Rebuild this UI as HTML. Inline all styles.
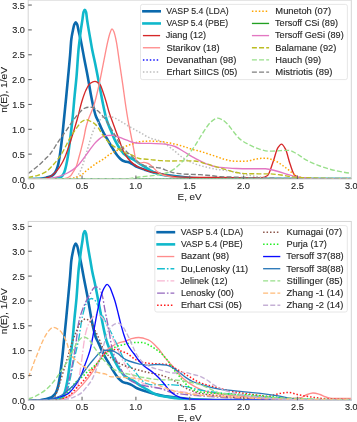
<!DOCTYPE html>
<html><head><meta charset="utf-8"><style>
html,body{margin:0;padding:0;background:#fff;}
svg{display:block;will-change:transform;font-family:"Liberation Sans",sans-serif;}
</style></head><body>
<svg width="357" height="422" viewBox="0 0 357 422">
<defs><clipPath id="ct"><rect x="28.20" y="0.10" width="323.10" height="178.90"/></clipPath>
<clipPath id="cb"><rect x="28.20" y="221.45" width="323.10" height="178.90"/></clipPath></defs>
<rect width="357" height="422" fill="#fff"/>
<g clip-path="url(#ct)" fill="none" stroke-linejoin="round">
<path d="M28.20 179.00C32.13 179.00 36.07 178.97 40.00 178.90C42.00 178.86 44.00 178.20 46.00 177.70C47.90 177.22 49.80 176.77 51.70 175.80C52.63 175.32 53.57 174.41 54.50 173.30C55.13 172.55 55.77 171.49 56.40 170.10C57.00 168.79 57.60 166.90 58.20 164.50C58.67 162.63 59.13 159.81 59.60 156.90C60.43 151.70 61.27 145.12 62.10 137.90C62.73 132.41 63.37 125.32 64.00 119.00C64.73 111.69 65.47 104.54 66.20 97.00C66.83 90.48 67.47 83.71 68.10 76.90C68.77 69.73 69.43 62.96 70.10 55.00C70.50 50.23 70.90 42.72 71.30 39.50C71.83 35.21 72.37 32.95 72.90 30.40C73.37 28.17 73.83 25.70 74.30 24.60C74.77 23.50 75.23 22.30 75.70 22.30C76.20 22.30 76.70 23.45 77.20 24.60C77.63 25.60 78.07 28.49 78.50 30.40C79.20 33.48 79.90 36.20 80.60 39.50C81.77 45.00 82.93 51.84 84.10 57.90C85.33 64.31 86.57 70.21 87.80 76.90C88.90 82.86 90.00 90.02 91.10 95.80C91.93 100.18 92.77 104.58 93.60 108.00C94.40 111.28 95.20 114.40 96.00 116.50C96.80 118.60 97.60 119.75 98.40 121.50C99.20 123.25 100.00 125.25 100.80 127.00C101.57 128.67 102.33 130.30 103.10 131.80C103.90 133.36 104.70 134.79 105.50 136.20C106.27 137.55 107.03 138.79 107.80 140.10C109.40 142.84 111.00 145.82 112.60 148.40C114.17 150.93 115.73 153.52 117.30 155.50C118.20 156.64 119.10 157.66 120.00 158.50C120.83 159.27 121.67 160.09 122.50 160.50C123.33 160.91 124.17 161.16 125.00 161.40C126.00 161.68 127.00 161.80 128.00 162.10C129.13 162.44 130.27 162.95 131.40 163.50C133.27 164.40 135.13 166.05 137.00 166.90C139.60 168.09 142.20 168.83 144.80 169.70C147.80 170.70 150.80 171.73 153.80 172.50C156.40 173.16 159.00 173.70 161.60 174.20C163.73 174.61 165.87 175.00 168.00 175.30C173.67 176.09 179.33 176.73 185.00 177.20C190.00 177.62 195.00 178.04 200.00 178.20C210.00 178.53 220.00 178.76 230.00 178.80C270.43 178.95 310.87 179.00 351.30 179.00" stroke="#0b69ad" stroke-width="2.60" stroke-linecap="square"/>
<path d="M28.20 179.00C35.47 179.00 42.73 179.00 50.00 179.00C52.13 179.00 54.27 178.58 56.40 178.20C58.00 177.91 59.60 177.61 61.20 176.80C61.97 176.41 62.73 175.30 63.50 174.00C64.00 173.15 64.50 171.73 65.00 170.10C65.93 167.06 66.87 162.36 67.80 156.90C68.63 152.03 69.47 144.63 70.30 137.90C71.03 131.98 71.77 126.09 72.50 119.00C73.20 112.23 73.90 103.12 74.60 95.80C75.23 89.18 75.87 84.16 76.50 76.90C77.17 69.26 77.83 56.68 78.50 49.80C78.90 45.67 79.30 42.87 79.70 39.50C80.07 36.41 80.43 33.12 80.80 30.40C81.37 26.19 81.93 22.94 82.50 19.10C82.83 16.84 83.17 13.20 83.50 12.20C83.93 10.91 84.37 9.80 84.80 9.80C85.23 9.80 85.67 10.86 86.10 12.20C86.40 13.13 86.70 17.01 87.00 19.10C87.60 23.29 88.20 26.82 88.80 30.40C89.33 33.58 89.87 36.46 90.40 39.50C91.00 42.92 91.60 46.71 92.20 49.80C93.13 54.60 94.07 58.20 95.00 62.70C96.40 69.45 97.80 76.88 99.20 84.10C100.60 91.32 102.00 99.48 103.40 106.00C104.50 111.13 105.60 116.48 106.70 120.00C108.27 125.02 109.83 127.98 111.40 131.80C112.57 134.64 113.73 137.75 114.90 140.10C116.50 143.33 118.10 146.07 119.70 148.40C121.27 150.68 122.83 152.92 124.40 154.30C125.60 155.36 126.80 156.09 128.00 156.80C129.87 157.90 131.73 158.51 133.60 159.60C135.47 160.69 137.33 162.29 139.20 163.50C141.07 164.71 142.93 165.77 144.80 166.90C146.67 168.03 148.53 169.28 150.40 170.30C152.27 171.32 154.13 172.42 156.00 173.10C157.87 173.78 159.73 174.31 161.60 174.70C166.07 175.64 170.53 176.27 175.00 176.80C180.00 177.39 185.00 178.00 190.00 178.20C200.00 178.60 210.00 178.88 220.00 178.90C263.77 178.98 307.53 179.00 351.30 179.00" stroke="#10b8cb" stroke-width="2.60" stroke-linecap="square"/>
<path d="M28.20 179.00C32.13 179.00 36.07 178.93 40.00 178.80C43.27 178.70 46.53 177.91 49.80 176.80C52.33 175.94 54.87 172.98 57.40 170.10C58.77 168.55 60.13 166.36 61.50 164.00C62.67 161.99 63.83 159.63 65.00 156.90C67.20 151.76 69.40 144.69 71.60 137.90C73.50 132.03 75.40 125.77 77.30 119.00C78.87 113.42 80.43 105.99 82.00 101.00C83.33 96.75 84.67 92.72 86.00 90.00C87.33 87.28 88.67 84.44 90.00 83.50C91.67 82.32 93.33 81.30 95.00 81.30C96.67 81.30 98.33 82.71 100.00 84.50C101.00 85.57 102.00 89.22 103.00 92.00C104.17 95.24 105.33 99.07 106.50 103.00C107.33 105.81 108.17 109.35 109.00 112.00C110.00 115.18 111.00 117.70 112.00 120.50C113.37 124.32 114.73 128.12 116.10 131.80C117.30 135.03 118.50 138.09 119.70 141.30C120.87 144.42 122.03 148.42 123.20 150.80C124.80 154.07 126.40 156.52 128.00 158.50C129.87 160.81 131.73 162.69 133.60 164.10C135.47 165.51 137.33 166.61 139.20 167.50C141.07 168.39 142.93 169.02 144.80 169.70C146.67 170.38 148.53 171.14 150.40 171.60C152.27 172.06 154.13 172.36 156.00 172.70C157.33 172.95 158.67 173.12 160.00 173.40C161.67 173.76 163.33 174.38 165.00 174.80C167.07 175.32 169.13 175.92 171.20 176.20C174.93 176.70 178.67 177.12 182.40 177.20C188.27 177.33 194.13 177.36 200.00 177.40C206.67 177.45 213.33 177.46 220.00 177.50C230.00 177.57 240.00 177.80 250.00 177.80C254.00 177.80 258.00 177.74 262.00 177.60C263.87 177.53 265.73 176.72 267.60 175.50C269.47 174.28 271.33 166.59 273.20 161.50C274.70 157.41 276.20 150.40 277.70 148.10C278.97 146.16 280.23 144.10 281.50 144.10C282.83 144.10 284.17 146.78 285.50 149.20C287.00 151.92 288.50 159.57 290.00 163.80C291.50 168.03 293.00 173.51 294.50 175.00C296.00 176.49 297.50 177.57 299.00 177.80C301.00 178.11 303.00 178.25 305.00 178.30C313.33 178.51 321.67 178.54 330.00 178.60C337.10 178.65 344.20 178.69 351.30 178.70" stroke="#d62728" stroke-width="1.35" stroke-linecap="square"/>
<path d="M28.20 179.00C38.80 179.00 49.40 179.00 60.00 179.00C62.40 179.00 64.80 178.47 67.20 177.80C68.33 177.48 69.47 176.78 70.60 175.80C71.43 175.08 72.27 173.35 73.10 172.00C74.17 170.27 75.23 168.91 76.30 166.40C77.20 164.28 78.10 160.22 79.00 157.00C79.70 154.50 80.40 152.03 81.10 149.30C82.03 145.67 82.97 141.90 83.90 137.60C84.53 134.69 85.17 130.62 85.80 128.00C86.47 125.24 87.13 123.02 87.80 121.00C89.83 114.83 91.87 111.79 93.90 105.40C95.67 99.85 97.43 91.99 99.20 84.10C100.63 77.70 102.07 69.82 103.50 62.70C104.93 55.58 106.37 47.50 107.80 41.40C108.53 38.28 109.27 34.95 110.00 33.00C110.67 31.23 111.33 28.90 112.00 28.90C112.67 28.90 113.33 30.52 114.00 32.00C114.77 33.71 115.53 37.57 116.30 41.40C117.37 46.73 118.43 55.58 119.50 62.70C120.57 69.82 121.63 76.73 122.70 84.10C123.77 91.47 124.83 99.95 125.90 107.00C126.60 111.62 127.30 116.06 128.00 120.00C129.17 126.57 130.33 131.87 131.50 137.80C132.30 141.87 133.10 145.97 133.90 150.00C134.53 153.19 135.17 158.27 135.80 159.50C136.93 161.70 138.07 163.30 139.20 163.30C140.70 163.30 142.20 162.40 143.70 162.40C145.20 162.40 146.70 162.94 148.20 163.50C149.67 164.05 151.13 165.62 152.60 166.90C154.10 168.21 155.60 170.13 157.10 171.40C158.60 172.67 160.10 174.15 161.60 174.70C163.73 175.48 165.87 175.77 168.00 176.20C172.00 177.01 176.00 178.08 180.00 178.30C186.67 178.66 193.33 178.89 200.00 178.90C250.43 178.99 300.87 179.00 351.30 179.00" stroke="#ff8c8c" stroke-width="1.35" stroke-linecap="square"/>
<path d="M28.20 179.00L351.30 179.00" stroke="#1515ff" stroke-width="1.50" stroke-dasharray="1.50 1.95" stroke-linecap="butt"/>
<path d="M28.20 179.00C42.13 179.00 56.07 179.00 70.00 179.00C71.67 179.00 73.33 178.58 75.00 178.00C76.17 177.60 77.33 176.09 78.50 174.50C79.67 172.91 80.83 169.97 82.00 167.00C83.17 164.03 84.33 159.78 85.50 156.00C86.60 152.44 87.70 148.67 88.80 145.00C90.00 141.00 91.20 136.10 92.40 133.00C93.33 130.59 94.27 128.67 95.20 127.00C96.33 124.97 97.47 123.30 98.60 121.80C99.90 120.08 101.20 117.89 102.50 117.30C103.80 116.71 105.10 116.20 106.40 116.20C107.70 116.20 109.00 116.46 110.30 116.70C112.00 117.01 113.70 117.70 115.40 118.40C117.43 119.24 119.47 120.62 121.50 121.80C124.33 123.45 127.17 125.36 130.00 127.00C133.33 128.93 136.67 130.67 140.00 132.50C143.33 134.33 146.67 136.69 150.00 138.00C153.73 139.47 157.47 139.82 161.20 141.40C164.93 142.98 168.67 146.41 172.40 149.20C176.13 151.99 179.87 155.90 183.60 158.20C187.33 160.50 191.07 162.42 194.80 163.80C198.53 165.18 202.27 166.20 206.00 167.10C209.73 168.00 213.47 168.82 217.20 169.40C221.47 170.07 225.73 170.32 230.00 171.00C235.80 171.93 241.60 174.01 247.40 175.00C254.93 176.28 262.47 177.59 270.00 178.00C280.00 178.55 290.00 179.00 300.00 179.00C317.10 179.00 334.20 179.00 351.30 179.00" stroke="#bdbdbd" stroke-width="1.50" stroke-dasharray="1.50 1.95" stroke-linecap="butt"/>
<path d="M28.20 179.00C40.80 179.00 53.40 179.00 66.00 179.00C67.70 179.00 69.40 178.64 71.10 178.40C72.73 178.17 74.37 177.93 76.00 177.50C78.30 176.89 80.60 175.40 82.90 173.80C83.93 173.08 84.97 171.85 86.00 171.00C87.33 169.90 88.67 169.00 90.00 168.00C92.00 166.50 94.00 164.83 96.00 163.50C98.37 161.93 100.73 160.86 103.10 159.30C105.47 157.74 107.83 155.45 110.20 154.00C112.57 152.55 114.93 151.50 117.30 150.30C119.67 149.10 122.03 147.79 124.40 146.80C127.17 145.64 129.93 144.72 132.70 143.80C134.87 143.08 137.03 142.04 139.20 141.80C142.93 141.39 146.67 141.10 150.40 141.10C154.13 141.10 157.87 141.38 161.60 141.70C163.73 141.88 165.87 142.45 168.00 142.80C169.47 143.04 170.93 143.22 172.40 143.50C176.13 144.22 179.87 145.42 183.60 146.50C187.33 147.58 191.07 149.03 194.80 150.00C196.53 150.45 198.27 150.73 200.00 151.20C202.80 151.95 205.60 153.08 208.40 154.00C211.20 154.92 214.00 155.75 216.80 156.70C219.03 157.46 221.27 158.56 223.50 159.10C227.73 160.13 231.97 161.30 236.20 161.30C239.93 161.30 243.67 161.23 247.40 161.10C250.40 161.00 253.40 159.26 256.40 158.90C259.37 158.55 262.33 158.20 265.30 158.20C268.30 158.20 271.30 159.35 274.30 160.40C277.30 161.45 280.30 163.96 283.30 166.00C285.53 167.52 287.77 169.32 290.00 171.00C292.23 172.68 294.47 175.21 296.70 176.10C299.47 177.21 302.23 177.99 305.00 178.30C308.33 178.68 311.67 179.00 315.00 179.00C327.10 179.00 339.20 179.00 351.30 179.00" stroke="#ffa500" stroke-width="1.50" stroke-dasharray="1.50 1.95" stroke-linecap="butt"/>
<path d="M28.20 179.00L351.30 179.00" stroke="#22a022" stroke-width="1.35" stroke-linecap="square"/>
<path d="M28.20 179.00C33.80 179.00 39.40 179.00 45.00 179.00C49.13 179.00 53.27 177.89 57.40 176.90C60.77 176.10 64.13 174.68 67.50 173.00C70.83 171.34 74.17 169.03 77.50 166.00C80.33 163.42 83.17 158.98 86.00 155.20C88.00 152.53 90.00 149.37 92.00 146.80C93.33 145.09 94.67 143.37 96.00 142.00C97.57 140.39 99.13 138.75 100.70 137.80C102.30 136.83 103.90 135.77 105.50 135.60C107.87 135.35 110.23 135.20 112.60 135.20C114.97 135.20 117.33 136.49 119.70 137.30C122.07 138.11 124.43 139.37 126.80 140.20C129.87 141.28 132.93 142.75 136.00 143.00C138.00 143.16 140.00 143.26 142.00 143.30C144.80 143.36 147.60 143.35 150.40 143.40C154.13 143.47 157.87 143.65 161.60 143.90C163.73 144.04 165.87 144.27 168.00 144.60C170.33 144.96 172.67 145.65 175.00 146.50C177.87 147.55 180.73 149.81 183.60 151.50C187.33 153.70 191.07 156.17 194.80 158.20C198.53 160.23 202.27 162.42 206.00 163.80C209.73 165.18 213.47 166.60 217.20 167.10C219.80 167.45 222.40 167.61 225.00 167.80C228.73 168.08 232.47 168.40 236.20 168.50C239.93 168.60 243.67 168.70 247.40 168.70C253.37 168.70 259.33 168.70 265.30 168.70C269.03 168.70 272.77 170.07 276.50 171.00C280.23 171.93 283.97 173.45 287.70 174.50C290.70 175.34 293.70 176.25 296.70 176.80C299.47 177.31 302.23 177.67 305.00 178.00C308.33 178.40 311.67 179.00 315.00 179.00C327.10 179.00 339.20 179.00 351.30 179.00" stroke="#e377c2" stroke-width="1.35" stroke-linecap="square"/>
<path d="M28.20 177.30C31.40 177.03 34.60 176.21 37.80 175.30C40.47 174.54 43.13 173.40 45.80 171.80C48.70 170.06 51.60 166.70 54.50 163.40C57.07 160.48 59.63 156.89 62.20 152.80C64.77 148.71 67.33 142.49 69.90 138.20C72.47 133.91 75.03 130.05 77.60 126.70C79.07 124.79 80.53 122.38 82.00 121.50C83.50 120.60 85.00 119.70 86.50 119.70C87.53 119.70 88.57 120.34 89.60 120.80C91.73 121.74 93.87 123.01 96.00 124.90C98.37 127.00 100.73 132.31 103.10 135.40C105.47 138.49 107.83 141.70 110.20 143.70C112.57 145.70 114.93 146.94 117.30 148.40C119.67 149.86 122.03 151.49 124.40 152.50C126.77 153.51 129.13 153.97 131.50 154.90C134.07 155.90 136.63 158.07 139.20 158.50C142.93 159.13 146.67 159.23 150.40 159.60C154.13 159.97 157.87 160.54 161.60 160.70C165.20 160.86 168.80 161.00 172.40 161.00C176.13 161.00 179.87 160.80 183.60 160.80C187.33 160.80 191.07 160.88 194.80 161.00C198.53 161.12 202.27 162.79 206.00 163.80C209.73 164.81 213.47 166.00 217.20 167.10C219.80 167.87 222.40 168.66 225.00 169.40C228.73 170.47 232.47 171.92 236.20 172.50C239.93 173.08 243.67 173.63 247.40 173.70C254.87 173.84 262.33 173.77 269.80 173.90C273.53 173.97 277.27 174.54 281.00 175.00C284.73 175.46 288.47 176.43 292.20 176.80C296.47 177.22 300.73 177.54 305.00 177.70C313.33 178.01 321.67 178.19 330.00 178.30C337.10 178.39 344.20 178.48 351.30 178.50" stroke="#bcbd22" stroke-width="1.35" stroke-dasharray="5.00 2.16" stroke-linecap="butt"/>
<path d="M28.20 179.00C58.80 179.00 89.40 179.00 120.00 179.00C122.67 179.00 125.33 178.86 128.00 178.70C131.73 178.48 135.47 177.45 139.20 177.00C142.93 176.55 146.67 176.33 150.40 175.90C151.93 175.72 153.47 175.52 155.00 175.30C157.20 174.98 159.40 174.65 161.60 174.20C163.73 173.76 165.87 173.27 168.00 172.50C170.33 171.66 172.67 170.14 175.00 168.50C176.33 167.56 177.67 166.27 179.00 165.00C180.53 163.54 182.07 161.94 183.60 160.20C187.33 155.97 191.07 151.30 194.80 145.90C196.53 143.39 198.27 140.27 200.00 137.50C201.27 135.48 202.53 133.37 203.80 131.50C206.03 128.20 208.27 124.15 210.50 122.30C212.87 120.34 215.23 118.10 217.60 118.10C219.07 118.10 220.53 118.91 222.00 119.60C223.63 120.37 225.27 121.85 226.90 123.40C229.13 125.51 231.37 129.14 233.60 131.80C235.83 134.46 238.07 137.61 240.30 139.40C243.10 141.64 245.90 143.09 248.70 144.50C252.47 146.40 256.23 148.31 260.00 149.30C263.27 150.16 266.53 151.20 269.80 151.20C273.53 151.20 277.27 150.78 281.00 150.60C283.33 150.49 285.67 150.30 288.00 150.30C290.90 150.30 293.80 152.26 296.70 153.70C299.47 155.07 302.23 157.78 305.00 159.30C310.00 162.04 315.00 164.21 320.00 166.00C325.00 167.79 330.00 169.40 335.00 170.50C340.43 171.69 345.87 172.73 351.30 173.30" stroke="#98df8a" stroke-width="1.35" stroke-dasharray="5.00 2.16" stroke-linecap="butt"/>
<path d="M28.20 173.50C31.40 171.34 34.60 168.83 37.80 166.10C40.53 163.77 43.27 160.97 46.00 158.30C47.27 157.06 48.53 155.99 49.80 154.50C52.63 151.17 55.47 145.73 58.30 141.60C61.53 136.88 64.77 132.65 68.00 128.00C69.70 125.55 71.40 122.78 73.10 120.50C74.80 118.22 76.50 116.07 78.20 114.20C80.13 112.08 82.07 109.34 84.00 108.50C85.50 107.85 87.00 107.20 88.50 107.20C90.00 107.20 91.50 107.27 93.00 107.40C94.47 107.52 95.93 109.38 97.40 110.60C98.90 111.85 100.40 113.35 101.90 115.00C103.10 116.32 104.30 117.81 105.50 119.50C106.83 121.38 108.17 123.83 109.50 126.00C110.93 128.33 112.37 130.55 113.80 133.00C115.77 136.36 117.73 140.85 119.70 143.70C121.67 146.55 123.63 148.85 125.60 150.80C126.40 151.59 127.20 152.19 128.00 152.90C129.87 154.55 131.73 156.22 133.60 157.90C135.47 159.58 137.33 161.79 139.20 163.00C141.07 164.21 142.93 165.27 144.80 165.80C146.67 166.33 148.53 166.64 150.40 166.90C152.27 167.16 154.13 167.28 156.00 167.50C157.33 167.65 158.67 167.76 160.00 168.00C161.67 168.30 163.33 169.18 165.00 169.80C167.07 170.57 169.13 171.64 171.20 172.20C173.13 172.72 175.07 173.12 177.00 173.40C178.80 173.66 180.60 173.89 182.40 174.00C184.93 174.15 187.47 174.20 190.00 174.30C193.33 174.43 196.67 174.52 200.00 174.70C203.33 174.88 206.67 175.19 210.00 175.50C213.33 175.81 216.67 176.41 220.00 176.60C226.67 176.98 233.33 177.07 240.00 177.30C246.67 177.53 253.33 177.85 260.00 178.00C273.33 178.29 286.67 178.52 300.00 178.60C317.10 178.71 334.20 178.80 351.30 178.80" stroke="#7f7f7f" stroke-width="1.35" stroke-dasharray="5.00 2.16" stroke-linecap="butt"/>
</g>
<rect x="28.20" y="0.10" width="323.10" height="178.90" fill="none" stroke="#d4d4d4" stroke-width="1"/>
<g stroke="#6a6a6a" stroke-width="1.1">
<line x1="28.20" y1="154.15" x2="31.80" y2="154.15"/>
<line x1="28.20" y1="129.30" x2="31.80" y2="129.30"/>
<line x1="28.20" y1="104.45" x2="31.80" y2="104.45"/>
<line x1="28.20" y1="79.60" x2="31.80" y2="79.60"/>
<line x1="28.20" y1="54.75" x2="31.80" y2="54.75"/>
<line x1="28.20" y1="29.90" x2="31.80" y2="29.90"/>
<line x1="28.20" y1="5.05" x2="31.80" y2="5.05"/>
<line x1="82.05" y1="179.00" x2="82.05" y2="175.40"/>
<line x1="135.90" y1="179.00" x2="135.90" y2="175.40"/>
<line x1="189.75" y1="179.00" x2="189.75" y2="175.40"/>
<line x1="243.60" y1="179.00" x2="243.60" y2="175.40"/>
<line x1="297.45" y1="179.00" x2="297.45" y2="175.40"/>
</g>
<g fill="#262626" stroke="#262626" stroke-width="0.12" font-family="Liberation Sans, sans-serif">
<text x="12.08" y="182.50" font-size="8.70" textLength="12.77" lengthAdjust="spacingAndGlyphs" >0.0</text>
<text x="12.25" y="157.65" font-size="8.70" textLength="12.64" lengthAdjust="spacingAndGlyphs" >0.5</text>
<text x="12.09" y="132.80" font-size="8.70" textLength="12.76" lengthAdjust="spacingAndGlyphs" >1.0</text>
<text x="12.27" y="107.95" font-size="8.70" textLength="12.61" lengthAdjust="spacingAndGlyphs" >1.5</text>
<text x="12.02" y="83.10" font-size="8.70" textLength="12.84" lengthAdjust="spacingAndGlyphs" >2.0</text>
<text x="12.19" y="58.25" font-size="8.70" textLength="12.70" lengthAdjust="spacingAndGlyphs" >2.5</text>
<text x="12.16" y="33.40" font-size="8.70" textLength="12.68" lengthAdjust="spacingAndGlyphs" >3.0</text>
<text x="12.33" y="8.55" font-size="8.70" textLength="12.55" lengthAdjust="spacingAndGlyphs" >3.5</text>
<text x="21.81" y="189.10" font-size="8.70" textLength="12.77" lengthAdjust="spacingAndGlyphs" >0.0</text>
<text x="75.75" y="189.10" font-size="8.70" textLength="12.64" lengthAdjust="spacingAndGlyphs" >0.5</text>
<text x="129.35" y="189.10" font-size="8.70" textLength="12.76" lengthAdjust="spacingAndGlyphs" >1.0</text>
<text x="183.29" y="189.10" font-size="8.70" textLength="12.61" lengthAdjust="spacingAndGlyphs" >1.5</text>
<text x="237.13" y="189.10" font-size="8.70" textLength="12.84" lengthAdjust="spacingAndGlyphs" >2.0</text>
<text x="291.06" y="189.10" font-size="8.70" textLength="12.70" lengthAdjust="spacingAndGlyphs" >2.5</text>
<text x="344.96" y="189.10" font-size="8.70" textLength="12.68" lengthAdjust="spacingAndGlyphs" >3.0</text>
<text x="177.57" y="199.90" font-size="9.60" textLength="24.11" lengthAdjust="spacingAndGlyphs" >E, eV</text>
<g transform="translate(7.0 89.55) rotate(-90)">
<text x="-23.25" y="0.00" font-size="9.60" textLength="45.87" lengthAdjust="spacingAndGlyphs" >n(E), 1/eV</text>
</g>
</g>
<rect x="140.50" y="4.40" width="206.90" height="75.20" rx="2" ry="2" fill="#fff" fill-opacity="0.8" stroke="#e0e0e0" stroke-width="0.8"/>
<g font-family="Liberation Sans, sans-serif" fill="#262626" stroke="#262626" stroke-width="0.12">
<line x1="143.40" y1="11.30" x2="159.70" y2="11.30" stroke="#0b69ad" stroke-width="2.60" stroke-linecap="square"/>
<text x="166.38" y="14.15" font-size="8.70" textLength="62.24" lengthAdjust="spacingAndGlyphs" >VASP 5.4 (LDA)</text>
<line x1="143.40" y1="23.45" x2="159.70" y2="23.45" stroke="#10b8cb" stroke-width="2.60" stroke-linecap="square"/>
<text x="166.38" y="26.30" font-size="8.70" textLength="61.63" lengthAdjust="spacingAndGlyphs" >VASP 5.4 (PBE)</text>
<line x1="142.90" y1="35.60" x2="160.10" y2="35.60" stroke="#d62728" stroke-width="1.35" stroke-linecap="butt"/>
<text x="165.77" y="38.45" font-size="8.70" textLength="40.36" lengthAdjust="spacingAndGlyphs" >Jiang (12)</text>
<line x1="142.90" y1="47.75" x2="160.10" y2="47.75" stroke="#ff8c8c" stroke-width="1.35" stroke-linecap="butt"/>
<text x="166.47" y="50.60" font-size="8.70" textLength="53.11" lengthAdjust="spacingAndGlyphs" >Starikov (18)</text>
<line x1="142.90" y1="59.90" x2="160.10" y2="59.90" stroke="#1515ff" stroke-width="1.50" stroke-dasharray="1.50 1.95" stroke-linecap="butt"/>
<text x="166.39" y="62.75" font-size="8.70" textLength="70.04" lengthAdjust="spacingAndGlyphs" >Devanathan (98)</text>
<line x1="142.90" y1="72.05" x2="160.10" y2="72.05" stroke="#bdbdbd" stroke-width="1.50" stroke-dasharray="1.50 1.95" stroke-linecap="butt"/>
<text x="166.42" y="74.90" font-size="8.70" textLength="70.97" lengthAdjust="spacingAndGlyphs" >Erhart SiIICS (05)</text>
<line x1="251.90" y1="11.30" x2="269.10" y2="11.30" stroke="#ffa500" stroke-width="1.50" stroke-dasharray="1.50 1.95" stroke-linecap="butt"/>
<text x="275.34" y="14.15" font-size="8.70" textLength="55.75" lengthAdjust="spacingAndGlyphs" >Munetoh (07)</text>
<line x1="251.90" y1="23.45" x2="269.10" y2="23.45" stroke="#22a022" stroke-width="1.35" stroke-linecap="butt"/>
<text x="275.07" y="26.30" font-size="8.70" textLength="62.90" lengthAdjust="spacingAndGlyphs" >Tersoff CSi (89)</text>
<line x1="251.90" y1="35.60" x2="269.10" y2="35.60" stroke="#e377c2" stroke-width="1.35" stroke-linecap="butt"/>
<text x="275.07" y="38.45" font-size="8.70" textLength="68.63" lengthAdjust="spacingAndGlyphs" >Tersoff GeSi (89)</text>
<line x1="251.90" y1="47.75" x2="269.10" y2="47.75" stroke="#bcbd22" stroke-width="1.35" stroke-dasharray="5.00 2.16" stroke-linecap="butt"/>
<text x="275.35" y="50.60" font-size="8.70" textLength="61.05" lengthAdjust="spacingAndGlyphs" >Balamane (92)</text>
<line x1="251.90" y1="59.90" x2="269.10" y2="59.90" stroke="#98df8a" stroke-width="1.35" stroke-dasharray="5.00 2.16" stroke-linecap="butt"/>
<text x="275.35" y="62.75" font-size="8.70" textLength="45.77" lengthAdjust="spacingAndGlyphs" >Hauch (99)</text>
<line x1="251.90" y1="72.05" x2="269.10" y2="72.05" stroke="#7f7f7f" stroke-width="1.35" stroke-dasharray="5.00 2.16" stroke-linecap="butt"/>
<text x="275.33" y="74.90" font-size="8.70" textLength="57.10" lengthAdjust="spacingAndGlyphs" >Mistriotis (89)</text>
</g>
<g clip-path="url(#cb)" fill="none" stroke-linejoin="round">
<path d="M28.20 400.35C32.13 400.35 36.07 400.32 40.00 400.25C42.00 400.21 44.00 399.55 46.00 399.05C47.90 398.57 49.80 398.12 51.70 397.15C52.63 396.67 53.57 395.76 54.50 394.65C55.13 393.90 55.77 392.84 56.40 391.45C57.00 390.14 57.60 388.25 58.20 385.85C58.67 383.98 59.13 381.16 59.60 378.25C60.43 373.05 61.27 366.47 62.10 359.25C62.73 353.76 63.37 346.67 64.00 340.35C64.73 333.04 65.47 325.89 66.20 318.35C66.83 311.83 67.47 305.06 68.10 298.25C68.77 291.08 69.43 284.31 70.10 276.35C70.50 271.58 70.90 264.07 71.30 260.85C71.83 256.56 72.37 254.30 72.90 251.75C73.37 249.52 73.83 247.05 74.30 245.95C74.77 244.85 75.23 243.65 75.70 243.65C76.20 243.65 76.70 244.80 77.20 245.95C77.63 246.95 78.07 249.84 78.50 251.75C79.20 254.83 79.90 257.55 80.60 260.85C81.77 266.35 82.93 273.19 84.10 279.25C85.33 285.66 86.57 291.56 87.80 298.25C88.90 304.21 90.00 311.37 91.10 317.15C91.93 321.53 92.77 325.93 93.60 329.35C94.40 332.63 95.20 335.75 96.00 337.85C96.80 339.95 97.60 341.10 98.40 342.85C99.20 344.60 100.00 346.60 100.80 348.35C101.57 350.02 102.33 351.65 103.10 353.15C103.90 354.71 104.70 356.14 105.50 357.55C106.27 358.90 107.03 360.14 107.80 361.45C109.40 364.19 111.00 367.17 112.60 369.75C114.17 372.28 115.73 374.87 117.30 376.85C118.20 377.99 119.10 379.01 120.00 379.85C120.83 380.62 121.67 381.44 122.50 381.85C123.33 382.26 124.17 382.51 125.00 382.75C126.00 383.03 127.00 383.15 128.00 383.45C129.13 383.79 130.27 384.30 131.40 384.85C133.27 385.75 135.13 387.40 137.00 388.25C139.60 389.44 142.20 390.18 144.80 391.05C147.80 392.05 150.80 393.08 153.80 393.85C156.40 394.51 159.00 395.05 161.60 395.55C163.73 395.96 165.87 396.35 168.00 396.65C173.67 397.44 179.33 398.08 185.00 398.55C190.00 398.97 195.00 399.39 200.00 399.55C210.00 399.88 220.00 400.11 230.00 400.15C270.43 400.30 310.87 400.35 351.30 400.35" stroke="#0b69ad" stroke-width="2.60" stroke-linecap="square"/>
<path d="M28.20 400.35C35.47 400.35 42.73 400.35 50.00 400.35C52.13 400.35 54.27 399.93 56.40 399.55C58.00 399.26 59.60 398.96 61.20 398.15C61.97 397.76 62.73 396.65 63.50 395.35C64.00 394.50 64.50 393.08 65.00 391.45C65.93 388.41 66.87 383.71 67.80 378.25C68.63 373.38 69.47 365.98 70.30 359.25C71.03 353.33 71.77 347.44 72.50 340.35C73.20 333.58 73.90 324.47 74.60 317.15C75.23 310.53 75.87 305.51 76.50 298.25C77.17 290.61 77.83 278.03 78.50 271.15C78.90 267.02 79.30 264.22 79.70 260.85C80.07 257.76 80.43 254.47 80.80 251.75C81.37 247.54 81.93 244.29 82.50 240.45C82.83 238.19 83.17 234.55 83.50 233.55C83.93 232.26 84.37 231.15 84.80 231.15C85.23 231.15 85.67 232.21 86.10 233.55C86.40 234.48 86.70 238.36 87.00 240.45C87.60 244.64 88.20 248.17 88.80 251.75C89.33 254.93 89.87 257.81 90.40 260.85C91.00 264.27 91.60 268.06 92.20 271.15C93.13 275.95 94.07 279.55 95.00 284.05C96.40 290.80 97.80 298.23 99.20 305.45C100.60 312.67 102.00 320.83 103.40 327.35C104.50 332.48 105.60 337.83 106.70 341.35C108.27 346.37 109.83 349.33 111.40 353.15C112.57 355.99 113.73 359.10 114.90 361.45C116.50 364.68 118.10 367.42 119.70 369.75C121.27 372.03 122.83 374.27 124.40 375.65C125.60 376.71 126.80 377.44 128.00 378.15C129.87 379.25 131.73 379.86 133.60 380.95C135.47 382.04 137.33 383.64 139.20 384.85C141.07 386.06 142.93 387.12 144.80 388.25C146.67 389.38 148.53 390.63 150.40 391.65C152.27 392.67 154.13 393.77 156.00 394.45C157.87 395.13 159.73 395.66 161.60 396.05C166.07 396.99 170.53 397.62 175.00 398.15C180.00 398.74 185.00 399.35 190.00 399.55C200.00 399.95 210.00 400.23 220.00 400.25C263.77 400.33 307.53 400.35 351.30 400.35" stroke="#10b8cb" stroke-width="2.60" stroke-linecap="square"/>
<path d="M28.20 400.35C37.13 400.35 46.07 400.32 55.00 400.20C57.33 400.17 59.67 399.56 62.00 399.00C64.67 398.35 67.33 397.04 70.00 395.60C71.97 394.54 73.93 393.04 75.90 391.40C77.87 389.76 79.83 387.63 81.80 385.50C83.80 383.33 85.80 380.97 87.80 378.40C89.77 375.87 91.73 373.20 93.70 370.10C95.67 367.00 97.63 362.39 99.60 359.50C101.17 357.20 102.73 355.66 104.30 353.60C105.20 352.42 106.10 350.81 107.00 349.90C108.57 348.32 110.13 347.25 111.70 346.30C114.07 344.86 116.43 343.59 118.80 342.80C121.17 342.01 123.53 341.75 125.90 341.00C127.73 340.42 129.57 339.14 131.40 338.70C133.83 338.11 136.27 337.50 138.70 337.50C141.90 337.50 145.10 338.66 148.30 339.90C151.53 341.15 154.77 344.88 158.00 348.30C160.43 350.88 162.87 355.06 165.30 358.00C167.70 360.90 170.10 363.25 172.50 366.00C175.87 369.86 179.23 375.01 182.60 378.00C186.80 381.73 191.00 384.67 195.20 386.80C199.40 388.93 203.60 390.83 207.80 391.80C216.20 393.73 224.60 394.79 233.00 395.60C242.00 396.47 251.00 397.15 260.00 397.50C270.00 397.89 280.00 398.30 290.00 398.30C293.63 398.30 297.27 398.06 300.90 397.60C302.60 397.39 304.30 395.63 306.00 395.00C308.33 394.13 310.67 393.00 313.00 393.00C315.33 393.00 317.67 393.83 320.00 394.50C322.00 395.07 324.00 396.40 326.00 397.00C328.00 397.60 330.00 398.38 332.00 398.40C338.43 398.48 344.87 398.50 351.30 398.50" stroke="#ff8c8c" stroke-width="1.35" stroke-linecap="square"/>
<path d="M28.20 400.35C37.13 400.35 46.07 400.28 55.00 400.00C57.33 399.93 59.67 398.84 62.00 397.50C63.57 396.60 65.13 394.66 66.70 391.80C69.10 387.42 71.50 370.95 73.90 360.40C75.53 353.22 77.17 347.17 78.80 338.70C80.03 332.31 81.27 321.06 82.50 316.00C84.17 309.17 85.83 302.68 87.50 301.00C88.83 299.65 90.17 298.50 91.50 298.50C92.83 298.50 94.17 299.70 95.50 301.00C96.73 302.20 97.97 306.43 99.20 309.00C100.83 312.40 102.47 315.45 104.10 318.80C105.40 321.47 106.70 324.51 108.00 327.00C109.23 329.36 110.47 331.07 111.70 333.50C112.60 335.28 113.50 337.63 114.40 339.50C115.17 341.09 115.93 342.44 116.70 344.00C117.80 346.23 118.90 348.69 120.00 351.00C121.27 353.66 122.53 356.85 123.80 358.90C125.00 360.85 126.20 362.32 127.40 363.70C128.97 365.50 130.53 366.73 132.10 368.40C133.30 369.68 134.50 371.05 135.70 372.50C137.67 374.88 139.63 378.39 141.60 380.20C143.17 381.64 144.73 382.99 146.30 383.60C147.80 384.18 149.30 384.80 150.80 384.80C153.87 384.80 156.93 384.60 160.00 384.60C164.33 384.60 168.67 384.68 173.00 384.80C177.33 384.92 181.67 385.92 186.00 386.70C190.67 387.54 195.33 389.18 200.00 390.00C210.00 391.76 220.00 392.97 230.00 394.00C240.00 395.03 250.00 395.78 260.00 396.50C273.33 397.46 286.67 398.50 300.00 399.00C317.10 399.64 334.20 400.25 351.30 400.35" stroke="#17becf" stroke-width="1.35" stroke-dasharray="7.8 2.0 1.6 2.0" stroke-linecap="butt"/>
<path d="M28.20 400.35C38.80 400.35 49.40 400.33 60.00 400.20C62.00 400.18 64.00 399.48 66.00 398.80C67.33 398.34 68.67 397.43 70.00 396.50C71.33 395.57 72.67 394.53 74.00 393.00C75.03 391.81 76.07 390.60 77.10 388.00C78.07 385.57 79.03 378.06 80.00 372.00C80.83 366.78 81.67 360.13 82.50 354.00C83.17 349.10 83.83 342.75 84.50 339.00C85.17 335.25 85.83 332.34 86.50 330.00C87.23 327.42 87.97 325.34 88.70 323.70C89.47 321.99 90.23 320.59 91.00 319.50C91.83 318.31 92.67 317.21 93.50 316.60C94.67 315.75 95.83 314.80 97.00 314.80C98.20 314.80 99.40 315.38 100.60 316.00C101.77 316.61 102.93 318.39 104.10 320.10C105.30 321.86 106.50 324.61 107.70 327.20C108.87 329.71 110.03 332.99 111.20 335.50C112.40 338.09 113.60 340.04 114.80 342.60C115.87 344.87 116.93 347.52 118.00 350.00C119.00 352.32 120.00 354.92 121.00 357.00C122.07 359.22 123.13 361.17 124.20 363.00C126.13 366.31 128.07 369.45 130.00 372.00C132.10 374.77 134.20 377.67 136.30 379.20C140.87 382.52 145.43 384.66 150.00 386.00C156.67 387.95 163.33 388.92 170.00 390.00C180.00 391.62 190.00 392.93 200.00 394.00C213.33 395.42 226.67 396.71 240.00 397.50C253.33 398.29 266.67 398.99 280.00 399.30C303.77 399.85 327.53 400.35 351.30 400.35" stroke="#f7b6d2" stroke-width="1.35" stroke-dasharray="7.8 2.0 1.6 2.0" stroke-linecap="butt"/>
<path d="M28.20 400.35C38.13 400.35 48.07 400.29 58.00 400.00C60.10 399.94 62.20 398.68 64.30 396.70C65.90 395.19 67.50 386.49 69.10 379.80C71.30 370.61 73.50 359.01 75.70 345.00C76.67 338.84 77.63 327.55 78.60 323.00C80.23 315.31 81.87 311.17 83.50 307.10C85.47 302.20 87.43 298.53 89.40 295.30C91.43 291.96 93.47 286.80 95.50 286.80C96.67 286.80 97.83 287.30 99.00 288.00C100.07 288.64 101.13 291.85 102.20 295.30C103.17 298.42 104.13 305.97 105.10 311.00C106.23 316.90 107.37 322.00 108.50 328.00C109.70 334.36 110.90 343.50 112.10 348.30C113.13 352.43 114.17 355.53 115.20 358.00C116.80 361.82 118.40 363.98 120.00 367.00C121.40 369.65 122.80 373.45 124.20 375.00C128.23 379.47 132.27 382.01 136.30 383.50C140.30 384.97 144.30 385.70 148.30 386.50C152.33 387.30 156.37 387.59 160.40 388.50C164.60 389.45 168.80 392.27 173.00 393.00C177.33 393.76 181.67 394.05 186.00 394.50C190.67 394.98 195.33 395.43 200.00 395.80C210.00 396.59 220.00 397.28 230.00 397.80C243.33 398.50 256.67 399.26 270.00 399.50C297.10 399.99 324.20 400.35 351.30 400.35" stroke="#9467bd" stroke-width="1.35" stroke-dasharray="7.8 2.0 1.6 2.0" stroke-linecap="butt"/>
<path d="M28.20 400.35C37.13 400.35 46.07 400.32 55.00 400.20C57.33 400.17 59.67 399.59 62.00 399.00C64.67 398.33 67.33 396.87 70.00 395.00C71.97 393.62 73.93 390.58 75.90 388.50C77.87 386.42 79.83 384.65 81.80 382.50C83.80 380.31 85.80 377.87 87.80 375.40C89.77 372.97 91.73 370.33 93.70 367.80C95.67 365.27 97.63 362.80 99.60 360.20C101.27 357.99 102.93 354.59 104.60 353.40C106.17 352.28 107.73 351.63 109.30 351.10C111.67 350.29 114.03 349.30 116.40 349.30C117.97 349.30 119.53 350.49 121.10 351.10C123.07 351.86 125.03 352.43 127.00 353.40C130.10 354.93 133.20 358.75 136.30 360.00C140.30 361.62 144.30 362.92 148.30 363.30C152.33 363.69 156.37 363.72 160.40 364.00C162.87 364.17 165.33 364.26 167.80 364.60C170.40 364.96 173.00 367.08 175.60 368.50C177.77 369.69 179.93 371.11 182.10 372.40C184.30 373.71 186.50 374.99 188.70 376.30C190.87 377.59 193.03 378.97 195.20 380.20C196.80 381.11 198.40 382.16 200.00 382.80C202.60 383.84 205.20 384.46 207.80 385.20C212.00 386.40 216.20 387.43 220.40 388.50C224.60 389.57 228.80 390.80 233.00 391.60C238.67 392.68 244.33 393.41 250.00 394.20C253.33 394.67 256.67 395.04 260.00 395.50C262.33 395.82 264.67 396.50 267.00 396.50C270.77 396.50 274.53 394.47 278.30 393.80C281.60 393.22 284.90 392.40 288.20 392.40C291.50 392.40 294.80 394.02 298.10 394.70C300.93 395.29 303.77 395.82 306.60 396.30C309.40 396.78 312.20 397.23 315.00 397.60C317.33 397.91 319.67 398.21 322.00 398.40C324.67 398.62 327.33 398.77 330.00 398.90C333.33 399.06 336.67 399.22 340.00 399.30C343.77 399.39 347.53 399.48 351.30 399.50" stroke="#ff1a1a" stroke-width="1.50" stroke-dasharray="1.50 1.95" stroke-linecap="butt"/>
<path d="M28.20 400.35C34.80 400.35 41.40 400.32 48.00 400.20C50.20 400.16 52.40 398.71 54.60 396.70C56.20 395.24 57.80 388.62 59.40 384.00C61.83 376.97 64.27 368.33 66.70 360.40C68.47 354.64 70.23 348.19 72.00 343.00C73.43 338.79 74.87 334.91 76.30 331.50C77.70 328.17 79.10 324.00 80.50 322.50C82.17 320.71 83.83 319.00 85.50 319.00C87.00 319.00 88.50 320.25 90.00 321.50C91.70 322.92 93.40 327.22 95.10 330.50C96.67 333.53 98.23 336.92 99.80 340.50C101.00 343.24 102.20 347.31 103.40 349.30C105.37 352.56 107.33 354.51 109.30 356.40C111.27 358.29 113.23 359.88 115.20 361.10C117.17 362.32 119.13 363.21 121.10 364.10C123.07 364.99 125.03 365.79 127.00 366.50C130.10 367.63 133.20 368.62 136.30 369.50C140.30 370.63 144.30 371.59 148.30 372.50C152.33 373.41 156.37 373.93 160.40 375.00C162.87 375.66 165.33 376.58 167.80 377.60C170.40 378.67 173.00 380.02 175.60 381.50C178.23 383.00 180.87 385.20 183.50 386.70C186.10 388.18 188.70 389.62 191.30 390.60C194.20 391.69 197.10 392.62 200.00 393.20C206.67 394.53 213.33 395.33 220.00 396.00C230.00 397.01 240.00 397.77 250.00 398.30C260.00 398.83 270.00 399.30 280.00 399.50C303.77 399.97 327.53 400.35 351.30 400.35" stroke="#8c564b" stroke-width="1.50" stroke-dasharray="1.50 1.95" stroke-linecap="butt"/>
<path d="M28.20 400.35C37.13 400.35 46.07 400.32 55.00 400.20C57.33 400.17 59.67 399.11 62.00 398.00C64.37 396.87 66.73 393.68 69.10 391.00C71.37 388.44 73.63 384.27 75.90 382.00C77.87 380.03 79.83 378.95 81.80 377.20C83.80 375.42 85.80 373.06 87.80 371.30C89.77 369.57 91.73 368.34 93.70 366.60C95.67 364.86 97.63 362.68 99.60 360.70C101.57 358.72 103.53 356.60 105.50 354.70C107.57 352.70 109.63 350.26 111.70 349.00C114.07 347.56 116.43 346.57 118.80 345.80C121.17 345.03 123.53 344.60 125.90 344.00C127.73 343.53 129.57 342.67 131.40 342.60C134.80 342.46 138.20 342.40 141.60 342.40C144.67 342.40 147.73 344.44 150.80 346.00C152.53 346.88 154.27 348.31 156.00 349.50C157.57 350.58 159.13 351.48 160.70 352.80C161.77 353.70 162.83 354.94 163.90 356.10C165.20 357.51 166.50 358.91 167.80 360.60C169.53 362.86 171.27 366.12 173.00 368.50C174.73 370.88 176.47 372.85 178.20 375.00C179.97 377.19 181.73 379.55 183.50 381.50C185.23 383.41 186.97 385.35 188.70 386.70C190.43 388.05 192.17 389.24 193.90 390.00C195.93 390.89 197.97 391.71 200.00 392.00C206.80 392.97 213.60 393.24 220.40 393.60C228.80 394.05 237.20 394.16 245.60 394.60C253.73 395.03 261.87 395.85 270.00 396.50C280.00 397.30 290.00 398.58 300.00 399.00C317.10 399.72 334.20 400.35 351.30 400.35" stroke="#22ee22" stroke-width="1.50" stroke-dasharray="1.50 1.95" stroke-linecap="butt"/>
<path d="M28.20 400.35C33.80 400.35 39.40 400.27 45.00 400.10C47.40 400.03 49.80 399.22 52.20 398.70C54.80 398.14 57.40 397.54 60.00 396.80C62.23 396.16 64.47 395.60 66.70 394.50C67.80 393.96 68.90 393.01 70.00 392.00C72.00 390.16 74.00 387.50 76.00 384.50C77.93 381.60 79.87 378.17 81.80 373.70C82.70 371.62 83.60 368.50 84.50 366.00C85.60 362.95 86.70 360.28 87.80 357.10C88.57 354.88 89.33 352.88 90.10 350.00C90.80 347.37 91.50 343.61 92.20 340.00C92.97 336.04 93.73 331.21 94.50 327.00C95.50 321.50 96.50 315.68 97.50 311.00C98.83 304.76 100.17 298.60 101.50 294.50C102.33 291.94 103.17 289.59 104.00 288.20C105.03 286.47 106.07 284.40 107.10 284.40C108.07 284.40 109.03 286.02 110.00 287.50C110.67 288.52 111.33 290.73 112.00 292.50C112.93 294.98 113.87 297.47 114.80 300.50C115.80 303.74 116.80 307.87 117.80 311.80C118.77 315.60 119.73 320.03 120.70 323.70C121.70 327.50 122.70 331.22 123.70 334.30C124.87 337.89 126.03 341.41 127.20 343.80C128.40 346.26 129.60 347.99 130.80 349.70C131.80 351.12 132.80 352.16 133.80 353.50C135.20 355.37 136.60 357.76 138.00 359.50C139.83 361.78 141.67 363.86 143.50 365.50C146.67 368.33 149.83 369.91 153.00 372.50C154.67 373.86 156.33 375.36 158.00 377.00C159.60 378.57 161.20 380.37 162.80 382.20C165.20 384.95 167.60 388.71 170.00 391.00C171.67 392.59 173.33 394.08 175.00 395.00C177.53 396.40 180.07 397.69 182.60 398.10C188.40 399.05 194.20 399.64 200.00 399.70C250.43 400.25 300.87 400.35 351.30 400.35" stroke="#0a0aff" stroke-width="1.35" stroke-linecap="square"/>
<path d="M28.20 400.35C33.80 400.35 39.40 400.27 45.00 400.10C47.40 400.03 49.80 399.30 52.20 398.70C54.80 398.05 57.40 397.21 60.00 396.00C63.33 394.44 66.67 391.27 70.00 388.50C72.00 386.84 74.00 385.22 76.00 383.00C77.93 380.86 79.87 377.59 81.80 374.90C83.87 372.02 85.93 369.01 88.00 366.30C89.90 363.81 91.80 361.35 93.70 359.20C95.73 356.90 97.77 354.17 99.80 352.90C101.80 351.65 103.80 350.20 105.80 350.20C107.77 350.20 109.73 350.32 111.70 350.50C113.67 350.68 115.63 352.19 117.60 353.40C119.57 354.61 121.53 356.97 123.50 358.20C125.33 359.35 127.17 360.31 129.00 361.00C132.23 362.22 135.47 363.14 138.70 363.80C141.90 364.45 145.10 365.30 148.30 365.30C150.53 365.30 152.77 364.67 155.00 364.60C156.67 364.55 158.33 364.50 160.00 364.50C162.17 364.50 164.33 364.83 166.50 365.20C168.67 365.57 170.83 366.69 173.00 367.80C175.17 368.91 177.33 370.77 179.50 372.40C181.67 374.03 183.83 376.13 186.00 377.60C188.20 379.10 190.40 380.53 192.60 381.50C195.07 382.59 197.53 383.29 200.00 384.10C202.60 384.95 205.20 385.82 207.80 386.50C212.00 387.60 216.20 388.71 220.40 389.30C224.60 389.89 228.80 390.16 233.00 390.60C238.67 391.19 244.33 391.82 250.00 392.40C254.70 392.88 259.40 393.25 264.10 393.80C268.83 394.35 273.57 395.01 278.30 395.80C283.00 396.59 287.70 398.18 292.40 398.70C298.27 399.35 304.13 399.90 310.00 400.00C323.77 400.23 337.53 400.35 351.30 400.35" stroke="#2a78b8" stroke-width="1.35" stroke-linecap="square"/>
<path d="M28.20 398.60C29.27 398.52 30.33 398.27 31.40 398.00C32.60 397.69 33.80 397.07 35.00 396.50C36.40 395.84 37.80 395.04 39.20 394.20C41.43 392.86 43.67 391.51 45.90 389.70C47.77 388.19 49.63 386.18 51.50 384.10C53.00 382.43 54.50 380.53 56.00 378.50C57.50 376.47 59.00 374.03 60.50 371.80C62.00 369.57 63.50 367.34 65.00 365.10C66.00 363.61 67.00 362.32 68.00 360.60C69.17 358.60 70.33 355.85 71.50 353.50C72.67 351.15 73.83 348.56 75.00 346.50C76.27 344.26 77.53 341.83 78.80 340.50C80.40 338.82 82.00 336.80 83.60 336.80C85.07 336.80 86.53 337.76 88.00 338.70C89.97 339.96 91.93 344.15 93.90 346.90C95.87 349.65 97.83 352.67 99.80 355.20C101.80 357.77 103.80 360.15 105.80 362.30C107.87 364.52 109.93 367.13 112.00 368.40C115.17 370.35 118.33 371.55 121.50 372.50C125.03 373.56 128.57 374.10 132.10 374.90C135.67 375.70 139.23 376.58 142.80 377.30C145.87 377.92 148.93 378.62 152.00 379.00C154.80 379.35 157.60 379.76 160.40 379.80C164.60 379.87 168.80 379.84 173.00 379.90C177.33 379.96 181.67 380.82 186.00 381.50C190.67 382.23 195.33 383.20 200.00 384.50C206.80 386.39 213.60 391.98 220.40 393.10C230.27 394.73 240.13 395.22 250.00 396.00C260.00 396.79 270.00 397.66 280.00 398.00C303.77 398.82 327.53 399.50 351.30 399.50" stroke="#98df8a" stroke-width="1.35" stroke-dasharray="5.00 2.16" stroke-linecap="butt"/>
<path d="M28.20 377.40C29.27 374.95 30.33 372.35 31.40 369.60C32.50 366.77 33.60 363.42 34.70 360.60C35.47 358.63 36.23 356.87 37.00 355.00C38.83 350.52 40.67 345.26 42.50 341.50C44.50 337.40 46.50 333.08 48.50 331.00C50.13 329.30 51.77 327.30 53.40 327.30C55.40 327.30 57.40 328.73 59.40 330.20C61.83 331.99 64.27 336.62 66.70 342.30C67.80 344.87 68.90 351.55 70.00 353.60C71.30 356.02 72.60 357.13 73.90 358.50C76.53 361.27 79.17 363.71 81.80 365.40C83.87 366.73 85.93 367.58 88.00 368.60C89.90 369.54 91.80 370.63 93.70 371.30C95.73 372.02 97.77 372.53 99.80 373.00C101.80 373.47 103.80 373.59 105.80 374.20C107.20 374.63 108.60 376.43 110.00 376.60C113.33 377.01 116.67 376.97 120.00 377.20C125.43 377.57 130.87 377.86 136.30 378.50C140.30 378.97 144.30 379.89 148.30 381.00C152.33 382.12 156.37 384.40 160.40 386.00C164.43 387.60 168.47 389.56 172.50 390.60C177.00 391.76 181.50 392.46 186.00 393.20C190.67 393.97 195.33 394.79 200.00 395.20C210.00 396.09 220.00 396.48 230.00 397.00C243.33 397.69 256.67 398.49 270.00 398.80C297.10 399.44 324.20 400.00 351.30 400.00" stroke="#ffbb78" stroke-width="1.35" stroke-dasharray="5.00 2.16" stroke-linecap="butt"/>
<path d="M28.20 400.35C38.13 400.35 48.07 400.32 58.00 400.20C60.00 400.18 62.00 399.77 64.00 399.50C66.00 399.23 68.00 398.98 70.00 398.50C72.00 398.02 74.00 396.98 76.00 396.00C77.93 395.06 79.87 394.12 81.80 392.60C83.53 391.24 85.27 388.66 87.00 386.50C88.43 384.71 89.87 383.19 91.30 380.80C92.87 378.19 94.43 374.12 96.00 370.10C97.60 366.00 99.20 361.28 100.80 356.00C101.97 352.15 103.13 347.22 104.30 343.00C105.23 339.62 106.17 335.22 107.10 333.10C108.30 330.37 109.50 328.52 110.70 327.20C111.87 325.92 113.03 324.81 114.20 324.30C115.57 323.70 116.93 323.10 118.30 323.10C119.50 323.10 120.70 324.31 121.90 325.40C123.07 326.46 124.23 328.78 125.40 330.80C126.60 332.88 127.80 335.36 129.00 337.90C130.37 340.79 131.73 344.40 133.10 347.30C134.40 350.06 135.70 353.02 137.00 355.00C139.17 358.30 141.33 361.13 143.50 362.80C146.33 364.98 149.17 366.43 152.00 367.50C154.67 368.51 157.33 369.09 160.00 369.80C164.33 370.96 168.67 373.00 173.00 373.00C176.50 373.00 180.00 372.40 183.50 372.40C186.53 372.40 189.57 373.58 192.60 374.30C195.07 374.88 197.53 375.42 200.00 376.30C202.33 377.14 204.67 378.56 207.00 380.00C208.97 381.21 210.93 383.11 212.90 384.30C217.10 386.85 221.30 389.12 225.50 390.60C230.33 392.30 235.17 393.55 240.00 394.50C246.67 395.80 253.33 396.87 260.00 397.50C270.00 398.45 280.00 399.25 290.00 399.50C310.43 400.01 330.87 400.35 351.30 400.35" stroke="#c5b0d5" stroke-width="1.35" stroke-dasharray="5.00 2.16" stroke-linecap="butt"/>
</g>
<rect x="28.20" y="221.45" width="323.10" height="178.90" fill="none" stroke="#d4d4d4" stroke-width="1"/>
<g stroke="#6a6a6a" stroke-width="1.1">
<line x1="28.20" y1="375.50" x2="31.80" y2="375.50"/>
<line x1="28.20" y1="350.65" x2="31.80" y2="350.65"/>
<line x1="28.20" y1="325.80" x2="31.80" y2="325.80"/>
<line x1="28.20" y1="300.95" x2="31.80" y2="300.95"/>
<line x1="28.20" y1="276.10" x2="31.80" y2="276.10"/>
<line x1="28.20" y1="251.25" x2="31.80" y2="251.25"/>
<line x1="28.20" y1="226.40" x2="31.80" y2="226.40"/>
<line x1="82.05" y1="400.35" x2="82.05" y2="396.75"/>
<line x1="135.90" y1="400.35" x2="135.90" y2="396.75"/>
<line x1="189.75" y1="400.35" x2="189.75" y2="396.75"/>
<line x1="243.60" y1="400.35" x2="243.60" y2="396.75"/>
<line x1="297.45" y1="400.35" x2="297.45" y2="396.75"/>
</g>
<g fill="#262626" stroke="#262626" stroke-width="0.12" font-family="Liberation Sans, sans-serif">
<text x="12.08" y="403.85" font-size="8.70" textLength="12.77" lengthAdjust="spacingAndGlyphs" >0.0</text>
<text x="12.25" y="379.00" font-size="8.70" textLength="12.64" lengthAdjust="spacingAndGlyphs" >0.5</text>
<text x="12.09" y="354.15" font-size="8.70" textLength="12.76" lengthAdjust="spacingAndGlyphs" >1.0</text>
<text x="12.27" y="329.30" font-size="8.70" textLength="12.61" lengthAdjust="spacingAndGlyphs" >1.5</text>
<text x="12.02" y="304.45" font-size="8.70" textLength="12.84" lengthAdjust="spacingAndGlyphs" >2.0</text>
<text x="12.19" y="279.60" font-size="8.70" textLength="12.70" lengthAdjust="spacingAndGlyphs" >2.5</text>
<text x="12.16" y="254.75" font-size="8.70" textLength="12.68" lengthAdjust="spacingAndGlyphs" >3.0</text>
<text x="12.33" y="229.90" font-size="8.70" textLength="12.55" lengthAdjust="spacingAndGlyphs" >3.5</text>
<text x="21.81" y="410.45" font-size="8.70" textLength="12.77" lengthAdjust="spacingAndGlyphs" >0.0</text>
<text x="75.75" y="410.45" font-size="8.70" textLength="12.64" lengthAdjust="spacingAndGlyphs" >0.5</text>
<text x="129.35" y="410.45" font-size="8.70" textLength="12.76" lengthAdjust="spacingAndGlyphs" >1.0</text>
<text x="183.29" y="410.45" font-size="8.70" textLength="12.61" lengthAdjust="spacingAndGlyphs" >1.5</text>
<text x="237.13" y="410.45" font-size="8.70" textLength="12.84" lengthAdjust="spacingAndGlyphs" >2.0</text>
<text x="291.06" y="410.45" font-size="8.70" textLength="12.70" lengthAdjust="spacingAndGlyphs" >2.5</text>
<text x="344.96" y="410.45" font-size="8.70" textLength="12.68" lengthAdjust="spacingAndGlyphs" >3.0</text>
<text x="177.57" y="421.25" font-size="9.60" textLength="24.11" lengthAdjust="spacingAndGlyphs" >E, eV</text>
<g transform="translate(7.0 310.90) rotate(-90)">
<text x="-23.25" y="0.00" font-size="9.60" textLength="45.87" lengthAdjust="spacingAndGlyphs" >n(E), 1/eV</text>
</g>
</g>
<rect x="154.80" y="225.60" width="192.50" height="86.40" rx="2" ry="2" fill="#fff" fill-opacity="0.8" stroke="#e0e0e0" stroke-width="0.8"/>
<g font-family="Liberation Sans, sans-serif" fill="#262626" stroke="#262626" stroke-width="0.12">
<line x1="157.60" y1="232.20" x2="173.90" y2="232.20" stroke="#0b69ad" stroke-width="2.60" stroke-linecap="square"/>
<text x="180.88" y="235.05" font-size="8.70" textLength="62.24" lengthAdjust="spacingAndGlyphs" >VASP 5.4 (LDA)</text>
<line x1="157.60" y1="244.37" x2="173.90" y2="244.37" stroke="#10b8cb" stroke-width="2.60" stroke-linecap="square"/>
<text x="180.88" y="247.22" font-size="8.70" textLength="61.63" lengthAdjust="spacingAndGlyphs" >VASP 5.4 (PBE)</text>
<line x1="157.10" y1="256.54" x2="174.30" y2="256.54" stroke="#ff8c8c" stroke-width="1.35" stroke-linecap="butt"/>
<text x="180.90" y="259.39" font-size="8.70" textLength="48.10" lengthAdjust="spacingAndGlyphs" >Bazant (98)</text>
<line x1="157.10" y1="268.71" x2="174.30" y2="268.71" stroke="#17becf" stroke-width="1.35" stroke-dasharray="7.8 2.0 1.6 2.0" stroke-linecap="butt"/>
<text x="180.90" y="271.56" font-size="8.70" textLength="67.26" lengthAdjust="spacingAndGlyphs" >Du,Lenosky (11)</text>
<line x1="157.10" y1="280.88" x2="174.30" y2="280.88" stroke="#f7b6d2" stroke-width="1.35" stroke-dasharray="7.8 2.0 1.6 2.0" stroke-linecap="butt"/>
<text x="180.27" y="283.73" font-size="8.70" textLength="47.32" lengthAdjust="spacingAndGlyphs" >Jelinek (12)</text>
<line x1="157.10" y1="293.05" x2="174.30" y2="293.05" stroke="#9467bd" stroke-width="1.35" stroke-dasharray="7.8 2.0 1.6 2.0" stroke-linecap="butt"/>
<text x="180.91" y="295.90" font-size="8.70" textLength="53.01" lengthAdjust="spacingAndGlyphs" >Lenosky (00)</text>
<line x1="157.10" y1="305.22" x2="174.30" y2="305.22" stroke="#ff1a1a" stroke-width="1.50" stroke-dasharray="1.50 1.95" stroke-linecap="butt"/>
<text x="180.91" y="308.07" font-size="8.70" textLength="60.83" lengthAdjust="spacingAndGlyphs" >Erhart CSi (05)</text>
<line x1="263.10" y1="232.20" x2="280.30" y2="232.20" stroke="#8c564b" stroke-width="1.50" stroke-dasharray="1.50 1.95" stroke-linecap="butt"/>
<text x="286.55" y="235.05" font-size="8.70" textLength="55.46" lengthAdjust="spacingAndGlyphs" >Kumagai (07)</text>
<line x1="263.10" y1="244.37" x2="280.30" y2="244.37" stroke="#22ee22" stroke-width="1.50" stroke-dasharray="1.50 1.95" stroke-linecap="butt"/>
<text x="286.56" y="247.22" font-size="8.70" textLength="40.29" lengthAdjust="spacingAndGlyphs" >Purja (17)</text>
<line x1="263.10" y1="256.54" x2="280.30" y2="256.54" stroke="#0a0aff" stroke-width="1.35" stroke-linecap="butt"/>
<text x="286.26" y="259.39" font-size="8.70" textLength="57.50" lengthAdjust="spacingAndGlyphs" >Tersoff 37(88)</text>
<line x1="263.10" y1="268.71" x2="280.30" y2="268.71" stroke="#2a78b8" stroke-width="1.35" stroke-linecap="butt"/>
<text x="286.26" y="271.56" font-size="8.70" textLength="57.50" lengthAdjust="spacingAndGlyphs" >Tersoff 38(88)</text>
<line x1="263.10" y1="280.88" x2="280.30" y2="280.88" stroke="#98df8a" stroke-width="1.35" stroke-dasharray="5.00 2.16" stroke-linecap="butt"/>
<text x="286.61" y="283.73" font-size="8.70" textLength="56.10" lengthAdjust="spacingAndGlyphs" >Stillinger (85)</text>
<line x1="263.10" y1="293.05" x2="280.30" y2="293.05" stroke="#ffbb78" stroke-width="1.35" stroke-dasharray="5.00 2.16" stroke-linecap="butt"/>
<text x="286.56" y="295.90" font-size="8.70" textLength="56.81" lengthAdjust="spacingAndGlyphs" >Zhang -1 (14)</text>
<line x1="263.10" y1="305.22" x2="280.30" y2="305.22" stroke="#c5b0d5" stroke-width="1.35" stroke-dasharray="5.00 2.16" stroke-linecap="butt"/>
<text x="286.56" y="308.07" font-size="8.70" textLength="56.81" lengthAdjust="spacingAndGlyphs" >Zhang -2 (14)</text>
</g>
</svg>
</body></html>
